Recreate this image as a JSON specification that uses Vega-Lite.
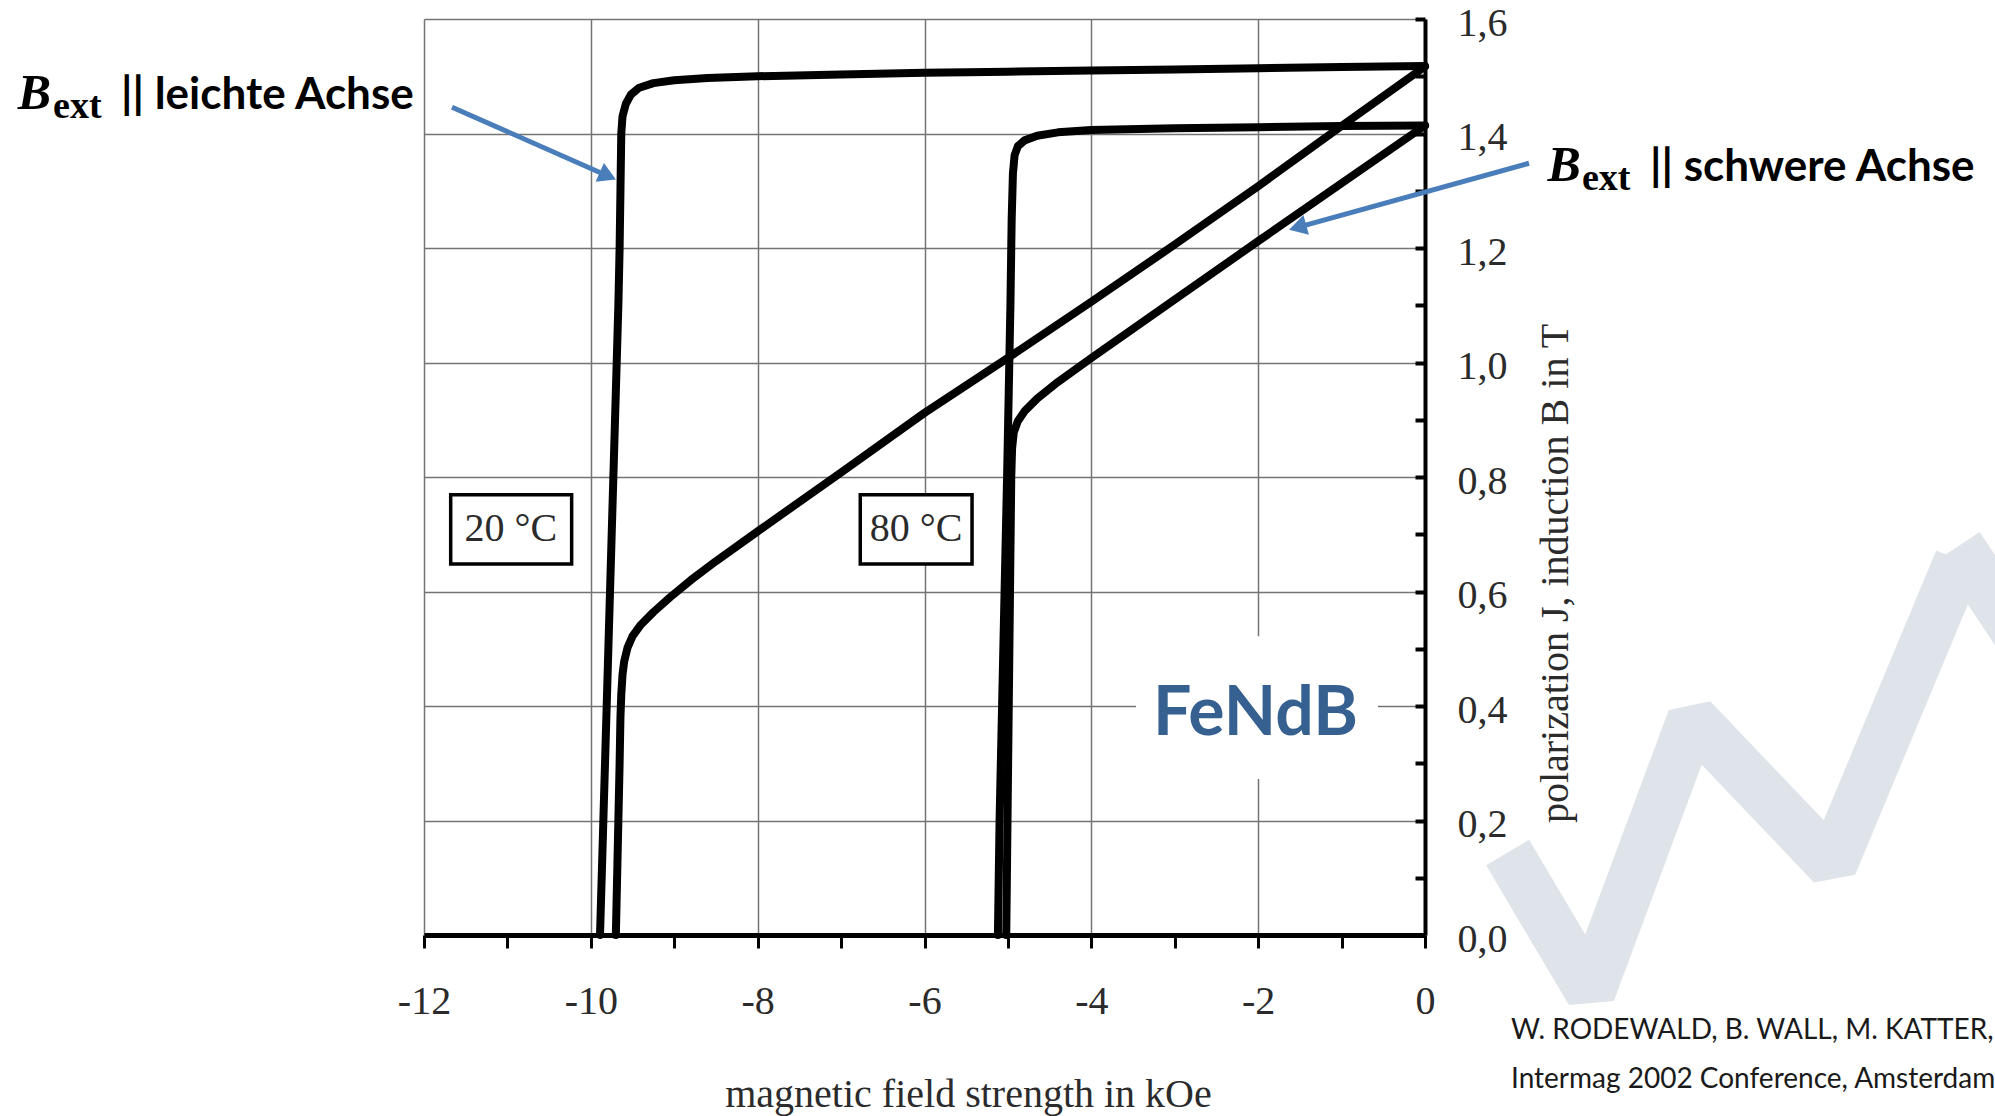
{
  "$schema": "https://vega.github.io/schema/vega-lite/v6.json",
  "width": 1001,
  "height": 916,
  "autosize": {"type": "none"},
  "padding": {"left": 424, "top": 19, "right": 570, "bottom": 181},
  "background": "white",
  "config": {"view": {"stroke": null}},
  "datasets": {
    "curves": [
      {"series": "20 °C leicht", "i": 0, "h": 0, "j": 1.518},
      {"series": "20 °C leicht", "i": 1, "h": -1, "j": 1.516},
      {"series": "20 °C leicht", "i": 2, "h": -2, "j": 1.514},
      {"series": "20 °C leicht", "i": 3, "h": -3, "j": 1.512},
      {"series": "20 °C leicht", "i": 4, "h": -4, "j": 1.51},
      {"series": "20 °C leicht", "i": 5, "h": -5, "j": 1.508},
      {"series": "20 °C leicht", "i": 6, "h": -6, "j": 1.506},
      {"series": "20 °C leicht", "i": 7, "h": -7, "j": 1.503},
      {"series": "20 °C leicht", "i": 8, "h": -8, "j": 1.5},
      {"series": "20 °C leicht", "i": 9, "h": -8.6, "j": 1.497},
      {"series": "20 °C leicht", "i": 10, "h": -9.0, "j": 1.493},
      {"series": "20 °C leicht", "i": 11, "h": -9.25, "j": 1.488},
      {"series": "20 °C leicht", "i": 12, "h": -9.42, "j": 1.48},
      {"series": "20 °C leicht", "i": 13, "h": -9.52, "j": 1.468},
      {"series": "20 °C leicht", "i": 14, "h": -9.58, "j": 1.452},
      {"series": "20 °C leicht", "i": 15, "h": -9.62, "j": 1.43},
      {"series": "20 °C leicht", "i": 16, "h": -9.635, "j": 1.4},
      {"series": "20 °C leicht", "i": 17, "h": -9.645, "j": 1.3},
      {"series": "20 °C leicht", "i": 18, "h": -9.655, "j": 1.2},
      {"series": "20 °C leicht", "i": 19, "h": -9.67, "j": 1.1},
      {"series": "20 °C leicht", "i": 20, "h": -9.69, "j": 1.0},
      {"series": "20 °C leicht", "i": 21, "h": -9.71, "j": 0.9},
      {"series": "20 °C leicht", "i": 22, "h": -9.73, "j": 0.8},
      {"series": "20 °C leicht", "i": 23, "h": -9.75, "j": 0.7},
      {"series": "20 °C leicht", "i": 24, "h": -9.77, "j": 0.6},
      {"series": "20 °C leicht", "i": 25, "h": -9.79, "j": 0.5},
      {"series": "20 °C leicht", "i": 26, "h": -9.81, "j": 0.4},
      {"series": "20 °C leicht", "i": 27, "h": -9.83, "j": 0.3},
      {"series": "20 °C leicht", "i": 28, "h": -9.85, "j": 0.2},
      {"series": "20 °C leicht", "i": 29, "h": -9.87, "j": 0.1},
      {"series": "20 °C leicht", "i": 30, "h": -9.89, "j": 0.0},
      {"series": "20 °C schwer", "i": 0, "h": 0, "j": 1.517},
      {"series": "20 °C schwer", "i": 1, "h": -0.5, "j": 1.465},
      {"series": "20 °C schwer", "i": 2, "h": -1, "j": 1.413},
      {"series": "20 °C schwer", "i": 3, "h": -2, "j": 1.308},
      {"series": "20 °C schwer", "i": 4, "h": -3, "j": 1.206},
      {"series": "20 °C schwer", "i": 5, "h": -4, "j": 1.106},
      {"series": "20 °C schwer", "i": 6, "h": -5, "j": 1.008},
      {"series": "20 °C schwer", "i": 7, "h": -6, "j": 0.912},
      {"series": "20 °C schwer", "i": 8, "h": -7, "j": 0.808},
      {"series": "20 °C schwer", "i": 9, "h": -8, "j": 0.705},
      {"series": "20 °C schwer", "i": 10, "h": -8.5, "j": 0.653},
      {"series": "20 °C schwer", "i": 11, "h": -8.8, "j": 0.62},
      {"series": "20 °C schwer", "i": 12, "h": -9.05, "j": 0.59},
      {"series": "20 °C schwer", "i": 13, "h": -9.25, "j": 0.564},
      {"series": "20 °C schwer", "i": 14, "h": -9.4, "j": 0.542},
      {"series": "20 °C schwer", "i": 15, "h": -9.5, "j": 0.522},
      {"series": "20 °C schwer", "i": 16, "h": -9.56, "j": 0.502},
      {"series": "20 °C schwer", "i": 17, "h": -9.6, "j": 0.478},
      {"series": "20 °C schwer", "i": 18, "h": -9.62, "j": 0.455},
      {"series": "20 °C schwer", "i": 19, "h": -9.635, "j": 0.42},
      {"series": "20 °C schwer", "i": 20, "h": -9.645, "j": 0.38},
      {"series": "20 °C schwer", "i": 21, "h": -9.655, "j": 0.3},
      {"series": "20 °C schwer", "i": 22, "h": -9.67, "j": 0.2},
      {"series": "20 °C schwer", "i": 23, "h": -9.685, "j": 0.1},
      {"series": "20 °C schwer", "i": 24, "h": -9.7, "j": 0.0},
      {"series": "80 °C leicht", "i": 0, "h": 0, "j": 1.414},
      {"series": "80 °C leicht", "i": 1, "h": -1, "j": 1.413},
      {"series": "80 °C leicht", "i": 2, "h": -2, "j": 1.411},
      {"series": "80 °C leicht", "i": 3, "h": -3, "j": 1.409},
      {"series": "80 °C leicht", "i": 4, "h": -4, "j": 1.406},
      {"series": "80 °C leicht", "i": 5, "h": -4.4, "j": 1.402},
      {"series": "80 °C leicht", "i": 6, "h": -4.65, "j": 1.396},
      {"series": "80 °C leicht", "i": 7, "h": -4.8, "j": 1.388},
      {"series": "80 °C leicht", "i": 8, "h": -4.88, "j": 1.378},
      {"series": "80 °C leicht", "i": 9, "h": -4.92, "j": 1.362},
      {"series": "80 °C leicht", "i": 10, "h": -4.94, "j": 1.33},
      {"series": "80 °C leicht", "i": 11, "h": -4.955, "j": 1.25},
      {"series": "80 °C leicht", "i": 12, "h": -4.97, "j": 1.1},
      {"series": "80 °C leicht", "i": 13, "h": -4.99, "j": 0.95},
      {"series": "80 °C leicht", "i": 14, "h": -5.01, "j": 0.8},
      {"series": "80 °C leicht", "i": 15, "h": -5.04, "j": 0.6},
      {"series": "80 °C leicht", "i": 16, "h": -5.07, "j": 0.4},
      {"series": "80 °C leicht", "i": 17, "h": -5.1, "j": 0.2},
      {"series": "80 °C leicht", "i": 18, "h": -5.12, "j": 0.0},
      {"series": "80 °C schwer", "i": 0, "h": 0, "j": 1.414},
      {"series": "80 °C schwer", "i": 1, "h": -1, "j": 1.313},
      {"series": "80 °C schwer", "i": 2, "h": -2, "j": 1.212},
      {"series": "80 °C schwer", "i": 3, "h": -3, "j": 1.11},
      {"series": "80 °C schwer", "i": 4, "h": -4, "j": 1.008},
      {"series": "80 °C schwer", "i": 5, "h": -4.4, "j": 0.966},
      {"series": "80 °C schwer", "i": 6, "h": -4.65, "j": 0.937},
      {"series": "80 °C schwer", "i": 7, "h": -4.8, "j": 0.915},
      {"series": "80 °C schwer", "i": 8, "h": -4.88, "j": 0.898},
      {"series": "80 °C schwer", "i": 9, "h": -4.93, "j": 0.878},
      {"series": "80 °C schwer", "i": 10, "h": -4.95, "j": 0.85},
      {"series": "80 °C schwer", "i": 11, "h": -4.96, "j": 0.8},
      {"series": "80 °C schwer", "i": 12, "h": -4.975, "j": 0.6},
      {"series": "80 °C schwer", "i": 13, "h": -4.99, "j": 0.4},
      {"series": "80 °C schwer", "i": 14, "h": -5.005, "j": 0.2},
      {"series": "80 °C schwer", "i": 15, "h": -5.02, "j": 0.0}
    ],
    "watermark": [
      {"part": "W", "k": 0, "x": 0.99, "y": 0.144},
      {"part": "W", "k": 1, "x": 1.983, "y": -0.1},
      {"part": "W", "k": 2, "x": 3.203, "y": 0.378},
      {"part": "W", "k": 3, "x": 4.88, "y": 0.122},
      {"part": "W", "k": 4, "x": 6.405, "y": 0.655},
      {"part": "M", "k": 0, "x": 6.40, "y": 0.68},
      {"part": "M", "k": 1, "x": 7.32, "y": 0.478}
    ],
    "boxes": [
      {"label": "20 °C", "x1": -11.68, "x2": -10.23, "y1": 0.648, "y2": 0.769, "xc": -10.96, "yc": 0.709},
      {"label": "80 °C", "x1": -6.77, "x2": -5.43, "y1": 0.648, "y2": 0.769, "xc": -6.1, "yc": 0.709}
    ],
    "arrows": [
      {"x1": -11.664, "y1": 1.446, "x2": -9.796, "y2": 1.3259},
      {"x1": 1.247, "y1": 1.348, "x2": -1.527, "y2": 1.2361}
    ]
  },
  "layer": [
    {
      "data": {"values": [{"x1": -3.465, "x2": -0.564, "y1": 0.2725, "y2": 0.522}]},
      "mark": {"type": "rect", "fill": "white", "strokeWidth": 0},
      "encoding": {
        "x": {"field": "x1", "type": "quantitative", "scale": {"domain": [-12, 0], "nice": false, "zero": false},
          "axis": {
            "values": [-12, -11, -10, -9, -8, -7, -6, -5, -4, -3, -2, -1, 0],
            "labelExpr": "round(datum.value) % 2 == 0 ? (datum.value < 0 ? '-' + abs(datum.value) : '' + datum.value) : ''",
            "labelFont": "Liberation Serif", "labelFontSize": 40, "labelColor": "#2b2b2b",
            "labelBaseline": "middle", "labelPadding": 53, "labelFlush": false, "labelOverlap": false,
            "tickSize": 13, "tickWidth": 3, "tickColor": "black",
            "domainColor": "black", "domainWidth": 5,
            "grid": true, "gridColor": "#747474", "gridWidth": 1.5,
            "gridOpacity": {"condition": {"test": "round(datum.value) % 2 == 0", "value": 1}, "value": 0},
            "title": "magnetic field strength in kOe",
            "titleFont": "Liberation Serif", "titleFontSize": 40, "titleFontWeight": "normal", "titleColor": "#2b2b2b",
            "titleX": 544, "titleY": 159, "titleAlign": "center", "titleBaseline": "middle"
          }},
        "x2": {"field": "x2"},
        "y": {"field": "y1", "type": "quantitative", "scale": {"domain": [0, 1.6], "nice": false, "zero": false},
          "axis": {
            "orient": "right",
            "values": [0, 0.1, 0.2, 0.3, 0.4, 0.5, 0.6, 0.7, 0.8, 0.9, 1.0, 1.1, 1.2, 1.3, 1.4, 1.5, 1.6],
            "labelExpr": "round(datum.value*10) % 2 == 0 ? replace(format(datum.value, '.1f'), '.', ',') : ''",
            "labelFont": "Liberation Serif", "labelFontSize": 40, "labelColor": "#2b2b2b",
            "labelAlign": "left", "labelBaseline": "middle", "labelPadding": 42, "labelOffset": 4, "labelFlush": false, "labelOverlap": false,
            "tickSize": -10, "tickWidth": 4, "tickColor": "black",
            "domainColor": "black", "domainWidth": 4,
            "grid": true, "gridColor": "#747474", "gridWidth": 1.5,
            "gridOpacity": {"condition": {"test": "round(datum.value*10) % 2 == 0", "value": 1}, "value": 0},
            "title": "polarization J, induction B in T",
            "titleFont": "Liberation Serif", "titleFontSize": 40, "titleFontWeight": "normal", "titleColor": "#2b2b2b",
            "titleAngle": 270, "titleX": 130, "titleY": 554, "titleAlign": "center", "titleBaseline": "middle"
          }},
        "y2": {"field": "y2"}
      }
    },
    {
      "data": {"name": "watermark"},
      "mark": {"type": "line", "color": "#dfe3ea", "strokeWidth": 50, "strokeJoin": "bevel", "strokeCap": "butt"},
      "encoding": {
        "x": {"field": "x", "type": "quantitative"},
        "y": {"field": "y", "type": "quantitative"},
        "detail": {"field": "part"},
        "order": {"field": "k", "type": "quantitative"}
      }
    },
    {
      "data": {"name": "curves"},
      "mark": {"type": "line", "color": "black", "strokeWidth": 8, "strokeJoin": "round", "strokeCap": "round"},
      "encoding": {
        "x": {"field": "h", "type": "quantitative"},
        "y": {"field": "j", "type": "quantitative"},
        "detail": {"field": "series"},
        "order": {"field": "i", "type": "quantitative"}
      }
    },
    {
      "data": {"name": "boxes"},
      "mark": {"type": "rect", "fill": "white", "stroke": "black", "strokeWidth": 3.5},
      "encoding": {
        "x": {"field": "x1", "type": "quantitative"},
        "x2": {"field": "x2"},
        "y": {"field": "y1", "type": "quantitative"},
        "y2": {"field": "y2"}
      }
    },
    {
      "data": {"name": "boxes"},
      "mark": {"type": "text", "font": "Liberation Serif", "fontSize": 40, "color": "#2b2b2b", "align": "center", "baseline": "middle"},
      "encoding": {
        "x": {"field": "xc", "type": "quantitative"},
        "y": {"field": "yc", "type": "quantitative"},
        "text": {"field": "label"}
      }
    },
    {
      "data": {"values": [{"t": "FeNdB", "x": -2.032, "y": 0.349}]},
      "mark": {"type": "text", "font": "Lato", "fontWeight": "bold", "fontSize": 68, "color": "#35608f", "align": "center", "baseline": "alphabetic"},
      "encoding": {
        "x": {"field": "x", "type": "quantitative"},
        "y": {"field": "y", "type": "quantitative"},
        "text": {"field": "t"}
      }
    },
    {
      "data": {"name": "arrows"},
      "mark": {"type": "rule", "color": "#4a7ebb", "strokeWidth": 5},
      "encoding": {
        "x": {"field": "x1", "type": "quantitative"},
        "y": {"field": "y1", "type": "quantitative"},
        "x2": {"field": "x2"},
        "y2": {"field": "y2"}
      }
    },
    {
      "data": {"values": [{"x": -9.796, "y": 1.3259}]},
      "mark": {"type": "point", "shape": "triangle-right", "filled": true, "color": "#4a7ebb", "opacity": 1, "size": 420, "angle": 23.9},
      "encoding": {
        "x": {"field": "x", "type": "quantitative"},
        "y": {"field": "y", "type": "quantitative"}
      }
    },
    {
      "data": {"values": [{"x": -1.527, "y": 1.2361}]},
      "mark": {"type": "point", "shape": "triangle-right", "filled": true, "color": "#4a7ebb", "opacity": 1, "size": 420, "angle": 164.5},
      "encoding": {
        "x": {"field": "x", "type": "quantitative"},
        "y": {"field": "y", "type": "quantitative"}
      }
    },
    {
      "data": {"values": [{"t": "B", "x": -16.87, "y": 1.4428}, {"t": "B", "x": 1.47, "y": 1.317}]},
      "mark": {"type": "text", "font": "Liberation Serif", "fontWeight": "bold", "fontStyle": "italic", "fontSize": 50, "color": "black", "align": "left", "baseline": "alphabetic"},
      "encoding": {
        "x": {"field": "x", "type": "quantitative"},
        "y": {"field": "y", "type": "quantitative"},
        "text": {"field": "t"}
      }
    },
    {
      "data": {"values": [{"t": "ext", "x": -16.447, "y": 1.4271}, {"t": "ext", "x": 1.882, "y": 1.3013}]},
      "mark": {"type": "text", "font": "Liberation Serif", "fontWeight": "bold", "fontSize": 38, "color": "black", "align": "left", "baseline": "alphabetic"},
      "encoding": {
        "x": {"field": "x", "type": "quantitative"},
        "y": {"field": "y", "type": "quantitative"},
        "text": {"field": "t"}
      }
    },
    {
      "data": {"values": [{"t": "|| leichte Achse", "x": -15.632, "y": 1.4428}, {"t": "|| schwere Achse", "x": 2.697, "y": 1.317}]},
      "mark": {"type": "text", "font": "Lato", "fontWeight": "bold", "fontSize": 44, "color": "black", "align": "left", "baseline": "alphabetic"},
      "encoding": {
        "x": {"field": "x", "type": "quantitative"},
        "y": {"field": "y", "type": "quantitative"},
        "text": {"field": "t"}
      }
    },
    {
      "data": {"values": [{"t": "W. RODEWALD, B. WALL, M. KATTER,", "x": 1.031, "y": -0.1677}, {"t": "Intermag 2002 Conference, Amsterdam", "x": 1.031, "y": -0.2533}]},
      "mark": {"type": "text", "font": "Lato", "fontSize": 28, "color": "#1a1a1a", "align": "left", "baseline": "middle"},
      "encoding": {
        "x": {"field": "x", "type": "quantitative"},
        "y": {"field": "y", "type": "quantitative"},
        "text": {"field": "t"}
      }
    }
  ]
}
